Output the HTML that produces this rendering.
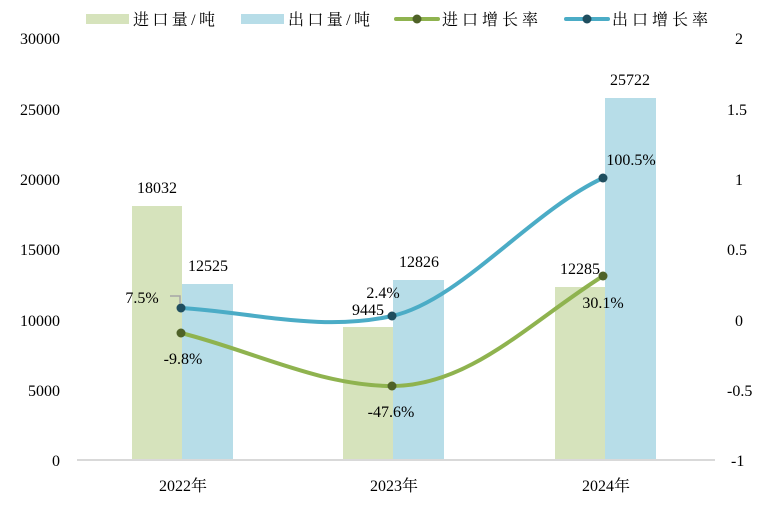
<!DOCTYPE html>
<html><head><meta charset="utf-8"><style>
body{margin:0;background:#fff;}
svg text{font-family:"Liberation Serif","Noto Serif CJK SC",serif;font-size:16px;fill:#000;}
</style></head><body>
<svg width="767" height="502" viewBox="0 0 767 502" xmlns="http://www.w3.org/2000/svg">
<!-- legend -->
<rect x="86" y="14" width="43" height="10" fill="#d6e3bc"/>
<text x="133" y="25" textLength="82" lengthAdjust="spacing">进口量/吨</text>
<rect x="241" y="14" width="43" height="10" fill="#b7dde8"/>
<text x="288" y="25" textLength="82" lengthAdjust="spacing">出口量/吨</text>
<line x1="396" y1="19" x2="438" y2="19" stroke="#8fb34f" stroke-width="4" stroke-linecap="round"/>
<circle cx="417" cy="19" r="4.5" fill="#4f6228"/>
<text x="442" y="25" textLength="96" lengthAdjust="spacing">进口增长率</text>
<line x1="566" y1="19" x2="608" y2="19" stroke="#4bacc6" stroke-width="4" stroke-linecap="round"/>
<circle cx="587" cy="19" r="4.5" fill="#1f4e5f"/>
<text x="612" y="25" textLength="96" lengthAdjust="spacing">出口增长率</text>
<!-- left axis -->
<g text-anchor="end">
<text x="60" y="44">30000</text><text x="60" y="115">25000</text><text x="60" y="185">20000</text>
<text x="60" y="255">15000</text><text x="60" y="326">10000</text><text x="60" y="396">5000</text>
<text x="60" y="466">0</text>
</g>
<g text-anchor="start">
<text x="735" y="44">2</text><text x="727" y="115">1.5</text><text x="735" y="185">1</text>
<text x="727" y="255">0.5</text><text x="735" y="326">0</text><text x="727" y="396">-0.5</text>
<text x="731" y="466">-1</text>
</g>
<!-- bars -->
<rect x="132" y="206" width="50" height="254" fill="#d6e3bc"/>
<rect x="182" y="284" width="51" height="176" fill="#b7dde8"/>
<rect x="343" y="327" width="50" height="133" fill="#d6e3bc"/>
<rect x="393" y="280" width="51" height="180" fill="#b7dde8"/>
<rect x="555" y="287" width="50" height="173" fill="#d6e3bc"/>
<rect x="605" y="98" width="51" height="362" fill="#b7dde8"/>
<line x1="77" y1="460" x2="715" y2="460" stroke="#d9d9d9" stroke-width="2"/>
<!-- x labels -->
<g text-anchor="middle">
<text x="183" y="491">2022年</text><text x="394" y="491">2023年</text><text x="606" y="491">2024年</text>
</g>
<!-- bar labels -->
<g text-anchor="middle">
<text x="157" y="193">18032</text><text x="208" y="271">12525</text>
<text x="368" y="315">9445</text><text x="419" y="267">12826</text>
<text x="580" y="274">12285</text><text x="630" y="85">25722</text>
</g>
<!-- lines -->
<path d="M181,308 C250,312 320,332 392,316 C460,301 530,212 603,178" fill="none" stroke="#4bacc6" stroke-width="4" stroke-linecap="round"/>
<path d="M181,333 C250,350 320,386 392,386 C470,386 530,322 603,276" fill="none" stroke="#8fb34f" stroke-width="4" stroke-linecap="round"/>
<circle cx="181" cy="308" r="4.5" fill="#1f4e5f"/><circle cx="392" cy="316" r="4.5" fill="#1f4e5f"/><circle cx="603" cy="178" r="4.5" fill="#1f4e5f"/>
<circle cx="181" cy="333" r="4.5" fill="#4f6228"/><circle cx="392" cy="386" r="4.5" fill="#4f6228"/><circle cx="603" cy="276" r="4.5" fill="#4f6228"/>
<polyline points="170,296 180,296 180,304" fill="none" stroke="#a6a6a6" stroke-width="1.5"/>
<g text-anchor="middle">
<text x="142" y="303">7.5%</text><text x="183" y="364">-9.8%</text>
<text x="383" y="298">2.4%</text><text x="391" y="417">-47.6%</text>
<text x="631" y="165">100.5%</text><text x="603" y="308">30.1%</text>
</g>
</svg>
</body></html>
